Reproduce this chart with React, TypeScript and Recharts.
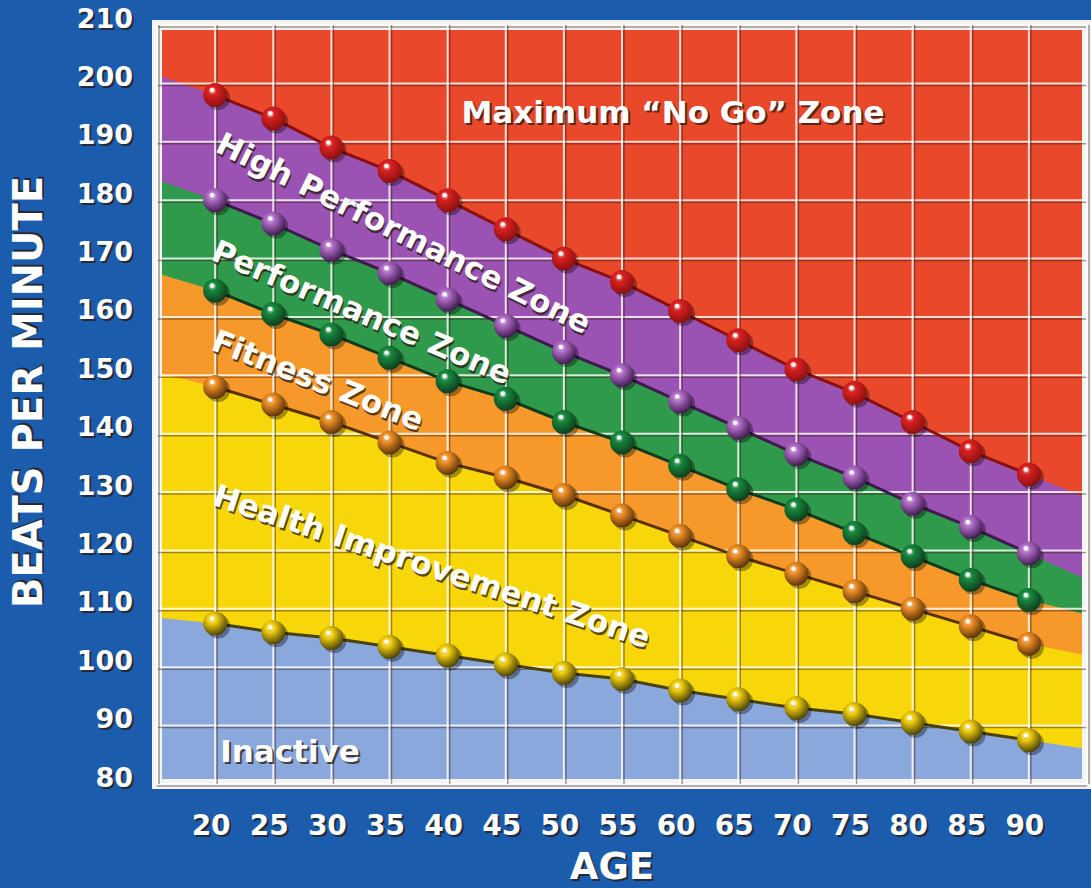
import React from 'react';
import { ComposedChart, Area, Line, XAxis, YAxis, CartesianGrid, ReferenceArea } from 'recharts';

const ages = [20, 25, 30, 35, 40, 45, 50, 55, 60, 65, 70, 75, 80, 85, 90];

// beats per minute at each age, one list per dotted line
const maxHeartRate = [198, 194, 189, 185, 180, 175, 170, 166, 161, 156, 151, 147, 142, 137, 133];
const highPerformance = [180, 176, 171.5, 167.5, 163, 158.5, 154, 150, 145.5, 141, 136.5, 132.5, 128, 124, 119.5];
const performance = [164.5, 160.5, 157, 153, 149, 146, 142, 138.5, 134.5, 130.5, 127, 123, 119, 115, 111.5];
const fitness = [148, 145, 142, 138.5, 135, 132.5, 129.5, 126, 122.5, 119, 116, 113, 110, 107, 104];
const healthImprovement = [107.5, 106, 105, 103.5, 102, 100.5, 99, 98, 96, 94.5, 93, 92, 90.5, 89, 87.5];

// where each zone border meets the left (15) and right (95) edge of the grid
const edgeAges = [15, 95];
const maxEdge = [201.5, 129];
const highEdge = [183.5, 115];
const perfEdge = [167.5, 109];
const fitEdge = [150.5, 102];
const healthEdge = [108.5, 86];

const yTicks = [80, 90, 100, 110, 120, 130, 140, 150, 160, 170, 180, 190, 200, 210];

const series = [
  { key: 'max', values: maxHeartRate, edge: maxEdge, zone: '#9a52b3', ball: '#dc2020', line: '#8a1010' },
  { key: 'high', values: highPerformance, edge: highEdge, zone: '#2f9a4b', ball: '#b46fcb', line: '#3e1a4e' },
  { key: 'perf', values: performance, edge: perfEdge, zone: '#f6992a', ball: '#168a3e', line: '#0f3d1c' },
  { key: 'fit', values: fitness, edge: fitEdge, zone: '#f8d70a', ball: '#f39226', line: '#5a3208' },
  { key: 'health', values: healthImprovement, edge: healthEdge, zone: '#8ba8dd', ball: '#f6d20e', line: '#4a4208' },
];

const data = [
  Object.fromEntries([['age', edgeAges[0]], ...series.map((s) => [s.key, s.edge[0]])]),
  ...ages.map((age, i) =>
    Object.fromEntries([
      ['age', age],
      ...series.flatMap((s) => [
        [s.key, s.values[i]],
        [s.key + 'Dot', s.values[i]],
      ]),
    ])
  ),
  Object.fromEntries([['age', edgeAges[1]], ...series.map((s) => [s.key, s.edge[1]])]),
];

const FONT = '"DejaVu Sans", Verdana, sans-serif';

function ShadowText({ x, y, size, children, anchor = 'middle', rotate = 0 }: any) {
  const t = rotate ? `rotate(${rotate} ${x} ${y})` : undefined;
  const common = {
    textAnchor: anchor,
    dominantBaseline: 'central' as const,
    fontFamily: FONT,
    fontWeight: 700,
    fontSize: size,
  };
  return (
    <g transform={t}>
      <text x={x + 2} y={y + 2} fill="#2a1a10" fillOpacity={0.75} {...common}>
        {children}
      </text>
      <text x={x} y={y} fill="#ffffff" {...common}>
        {children}
      </text>
    </g>
  );
}

const makeDot = (id: string) => (props: any) => {
  const { cx, cy, index, value } = props;
  if (cx == null || cy == null || value == null) return <g key={`${id}-${index}`} />;
  return (
    <g key={`${id}-${index}`}>
      <circle cx={cx + 3} cy={cy + 3} r={12} fill="#000" fillOpacity={0.35} />
      <circle cx={cx} cy={cy} r={12} fill={`url(#ball-${id})`} />
      <circle cx={cx - 3} cy={cy - 5} r={2.3} fill="#fff" fillOpacity={0.9} />
    </g>
  );
};

const gridLine = (props: any) => {
  const { x1, y1, x2, y2, index } = props;
  const horiz = y1 === y2;
  const dx = horiz ? 0 : 2;
  const dy = horiz ? 2 : 0;
  return (
    <g key={`g-${horiz ? 'h' : 'v'}-${index}`}>
      <line x1={x1 + dx} y1={y1 + dy} x2={x2 + dx} y2={y2 + dy} stroke="#3a1a10" strokeOpacity={0.45} strokeWidth={1.5} />
      <line x1={x1} y1={y1} x2={x2} y2={y2} stroke="#ffffff" strokeOpacity={0.8} strokeWidth={2} />
    </g>
  );
};

const YTick = ({ x, y, payload }: any) => (
  <ShadowText x={x} y={y - 7} size={27} anchor="end">
    {payload.value}
  </ShadowText>
);

const XTick = ({ x, y, payload }: any) => (
  <ShadowText x={x - 4} y={y + 41} size={28}>
    {payload.value}
  </ShadowText>
);

export default function App() {
  return (
    <div style={{ position: 'absolute', left: 0, top: 0, width: 1091, height: 888, background: '#1b5cad', overflow: 'hidden' }}>
      <ComposedChart width={1091} height={888} data={data} margin={{ top: 25, right: 4, bottom: 0, left: 0 }}>
        <defs>
          {series.map((s) => (
            <radialGradient key={s.key} id={`ball-${s.key}Dot`} cx="38%" cy="32%" r="70%">
              <stop offset="0%" stopColor="#ffffff" stopOpacity={0.55} />
              <stop offset="25%" stopColor={s.ball} />
              <stop offset="100%" stopColor={s.line} />
            </radialGradient>
          ))}
        </defs>
        <CartesianGrid fill="#e9482a" fillOpacity={1} horizontal={false} vertical={false} />
        <XAxis
          dataKey="age"
          type="number"
          domain={[15, 95]}
          ticks={ages}
          height={104}
          axisLine={false}
          tickLine={false}
          tickSize={0}
          tickMargin={0}
          tick={<XTick />}
          interval={0}
        />
        <YAxis
          type="number"
          domain={[80, 210]}
          ticks={yTicks}
          width={157}
          axisLine={false}
          tickLine={false}
          tickSize={0}
          tickMargin={24}
          tick={<YTick />}
          interval={0}
        />
        {series.map((s) => (
          <Area
            key={s.key}
            type="linear"
            dataKey={s.key}
            baseValue="dataMin"
            fill={s.zone}
            fillOpacity={1}
            stroke="none"
            isAnimationActive={false}
          />
        ))}
        <CartesianGrid horizontal={gridLine} vertical={gridLine} zIndex={150} />
        {series.map((s) => (
          <Line
            key={s.key + 'Dot'}
            type="linear"
            dataKey={s.key + 'Dot'}
            stroke={s.line}
            strokeWidth={3}
            dot={makeDot(s.key + 'Dot')}
            activeDot={false}
            connectNulls={false}
            isAnimationActive={false}
          />
        ))}
        <ReferenceArea x1={15} x2={95} y1={80} y2={210} fill="none" stroke="#f4f4f4" strokeWidth={10} ifOverflow="visible" />
      </ComposedChart>
      <svg width={1091} height={888} style={{ position: 'absolute', left: 0, top: 0, pointerEvents: 'none' }}>
        <ShadowText x={673} y={112} size={31}>Maximum “No Go” Zone</ShadowText>
        <ShadowText x={404} y={233} size={31} rotate={26.4}>High Performance Zone</ShadowText>
        <ShadowText x={362} y={312} size={31} rotate={23}>Performance Zone</ShadowText>
        <ShadowText x={318} y={380} size={31} rotate={21.5}>Fitness Zone</ShadowText>
        <ShadowText x={432} y={566} size={31} rotate={18.3}>Health Improvement Zone</ShadowText>
        <ShadowText x={290} y={751} size={31}>Inactive</ShadowText>
        <ShadowText x={612} y={866} size={37}>AGE</ShadowText>
        <ShadowText x={28} y={392} size={40} rotate={-90}>BEATS PER MINUTE</ShadowText>
      </svg>
    </div>
  );
}
